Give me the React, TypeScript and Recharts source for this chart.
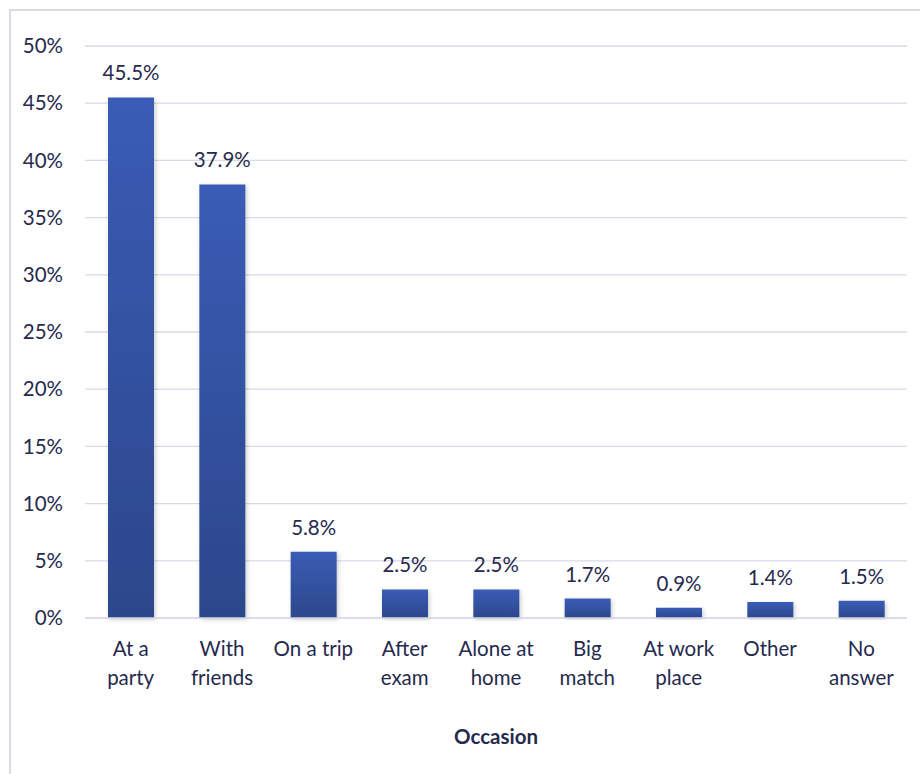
import { BarChart, Bar, XAxis, YAxis, CartesianGrid, LabelList, Label } from 'recharts'

const categories = ['At a party', 'With friends', 'On a trip', 'After exam', 'Alone at home', 'Big match', 'At work place', 'Other', 'No answer']
const tickLines = [
  ['At a', 'party'],
  ['With', 'friends'],
  ['On a trip'],
  ['After', 'exam'],
  ['Alone at', 'home'],
  ['Big', 'match'],
  ['At work', 'place'],
  ['Other'],
  ['No', 'answer'],
]
const shares = [45.5, 37.9, 5.8, 2.5, 2.5, 1.7, 0.9, 1.4, 1.5]
const yTicks = [0, 5, 10, 15, 20, 25, 30, 35, 40, 45, 50]

const data = categories.map((name, i) => ({ name, lines: tickLines[i], value: shares[i] }))

const FONT = 'Lato, "Open Sans", sans-serif'
const TEXT = '#262a4e'
const FS = 20.5

function CategoryTick({ x, y, index }: any) {
  const lines = tickLines[index] ?? []
  return (
    <text x={x} y={y} textAnchor="middle" fill={TEXT} fontFamily={FONT} fontSize={FS}>
      {lines.map((l, i) => (
        <tspan key={i} x={x} dy={i === 0 ? 30 : 29}>
          {l}
        </tspan>
      ))}
    </text>
  )
}

export default function App() {
  return (
    <div style={{ position: 'absolute', left: 0, top: 0, width: 920, height: 774, background: '#fff', overflow: 'hidden' }}>
      <div
        style={{
          position: 'absolute',
          left: 9,
          top: 9,
          width: 940,
          height: 800,
          border: '2px solid #d9d9ea',
        }}
      />
      <div style={{ position: 'absolute', left: 0, top: 0 }}>
        <BarChart width={920} height={774} data={data} margin={{ top: 46, right: 13, left: 25, bottom: 26 }}>
          <defs>
            <linearGradient id="barFill" x1="0" y1="0" x2="0" y2="1">
              <stop offset="0%" stopColor="#3a5cb6" />
              <stop offset="100%" stopColor="#2c478b" />
            </linearGradient>
            <filter id="barShadow" x="-20%" y="-5%" width="140%" height="115%">
              <feDropShadow dx="1.5" dy="1.5" stdDeviation="2" floodColor="#000" floodOpacity="0.2" />
            </filter>
          </defs>
          <CartesianGrid vertical={false} stroke="#d9d9ec" strokeWidth={1.3} />
          <XAxis
            dataKey="name"
            axisLine={{ stroke: '#d9d9ec', strokeWidth: 1.3 }}
            tickLine={false}
            interval={0}
            height={130}
            tick={<CategoryTick />}
          >
            <Label
              value="Occasion"
              position="insideBottom"
              offset={4}
              fill={TEXT}
              fontFamily={FONT}
              fontSize={FS}
              fontWeight="bold"
            />
          </XAxis>
          <YAxis
            domain={[0, 50]}
            ticks={yTicks}
            width={60}
            axisLine={false}
            tickLine={false}
            tickSize={0}
            tickMargin={22}
            tickFormatter={(v) => `${v}%`}
            tick={{ fill: TEXT, fontFamily: FONT, fontSize: FS }}
          />
          <Bar dataKey="value" barSize={46} fill="url(#barFill)" filter="url(#barShadow)" isAnimationActive={false}>
            <LabelList
              dataKey="value"
              position="top"
              offset={17}
              formatter={(v: any) => `${Number(v).toFixed(1)}%`}
              fill={TEXT}
              fontFamily={FONT}
              fontSize={FS}
            />
          </Bar>
        </BarChart>
      </div>
    </div>
  )
}
